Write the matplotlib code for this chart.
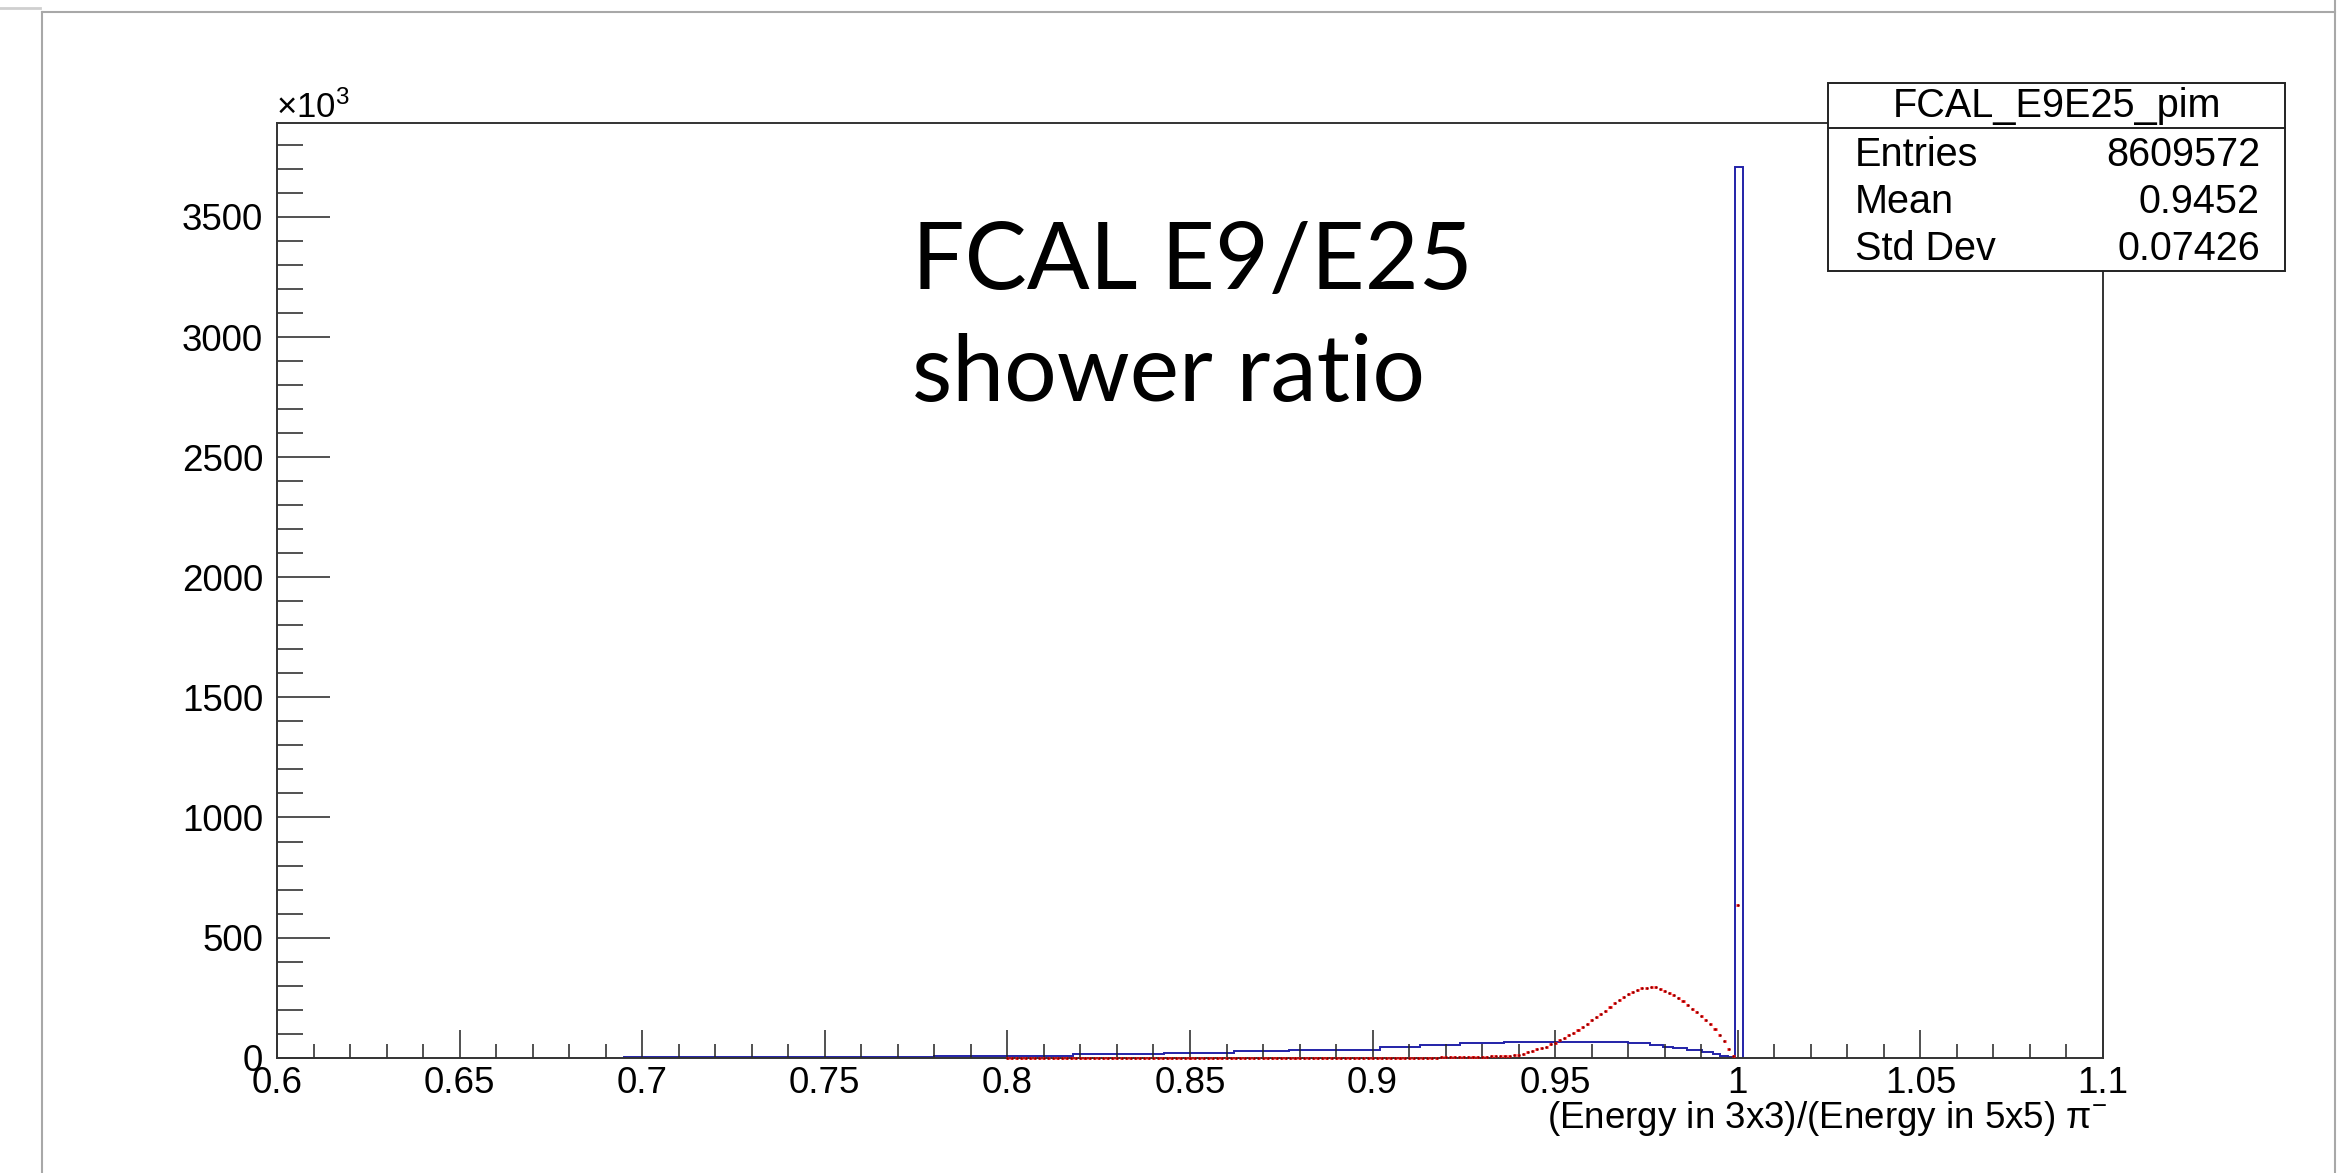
import numpy as np
import matplotlib
matplotlib.use("Agg")
import matplotlib.pyplot as plt
from matplotlib.patches import Rectangle
from matplotlib.lines import Line2D
from matplotlib.ticker import MultipleLocator, FuncFormatter

plt.rcParams['font.family'] = ['Liberation Sans', 'DejaVu Sans']
plt.rcParams['mathtext.fontset'] = 'custom'
plt.rcParams['mathtext.rm'] = 'Liberation Sans'
plt.rcParams['mathtext.it'] = 'Liberation Sans:italic'

# blue histogram (counts in thousands), steps as seen on the plot
blue_edges = [0.695, 0.78, 0.818, 0.843, 0.862, 0.877, 0.902, 0.913, 0.924, 0.936,
              0.970, 0.976, 0.9796, 0.9823, 0.986, 0.9901, 0.9933, 0.9951, 0.9974,
              0.9992, 1.0013]
blue_counts = [2, 8, 15, 21, 28, 33, 46, 53, 60, 66,
               61, 54, 46, 39, 32, 24, 15, 6, 2, 3707]

# red histogram (counts in thousands), bin width 0.00125 from 0.80 to 1.00
red_start = 0.80
red_width = 0.00125
red_counts = [0] * 95 + [
    3, 3, 3, 3, 3, 3, 3, 3, 3, 4,
    4, 5, 6, 7, 8, 9, 10, 11, 15, 22,
    28, 35, 40, 46, 55, 63, 73, 83, 93, 104,
    117, 128, 141, 156, 169, 181, 196, 212, 226, 240,
    254, 265, 273, 282, 289, 291, 294, 295, 285, 278,
    270, 260, 248, 235, 220, 204, 189, 172, 156, 139,
    119, 96, 70, 36, 8, 637]

hist_name = "FCAL_E9E25_pim"
stat_labels = ["Entries", "Mean", "Std Dev"]
stat_values = ["8609572", "0.9452", "0.07426"]
title_lines = ["FCAL E9/E25", "shower ratio"]
x_title = "(Energy in 3x3)/(Energy in 5x5) π$^{-}$"

W, H = 2350, 1173
fig = plt.figure(figsize=(W / 100, H / 100), dpi=100)

def fx(px):
    return px / W

def fy(py):
    return 1 - py / H

ax = fig.add_axes([fx(277), fy(1057.7), fx(2103 - 277), (1057.7 - 123.3) / H])

blue = np.array(blue_counts) * 1e3
ax.stairs(blue, blue_edges, color='#2323a8', lw=1.4, baseline=0)

red = np.array(red_counts) * 1e3
rx = red_start + red_width * np.arange(len(red))
ax.hlines(red, rx - 0.00042, rx + 0.00042, color='#ff1010', lw=2.0, zorder=3,
          clip_on=False)
ax.plot(rx, red, ls='none', marker='.', ms=1.0, color='#600000', zorder=4,
        clip_on=False)

ax.set_xlim(0.6, 1.1)
ax.set_ylim(0, 3.89e6)
ax.xaxis.set_major_locator(MultipleLocator(0.05))
ax.xaxis.set_minor_locator(MultipleLocator(0.01))
ax.yaxis.set_major_locator(MultipleLocator(500e3))
ax.yaxis.set_minor_locator(MultipleLocator(100e3))
ax.xaxis.set_major_formatter(FuncFormatter(lambda v, p: f"{v:g}"))
ax.yaxis.set_major_formatter(FuncFormatter(lambda v, p: f"{v / 1e3:.0f}"))
ax.tick_params(axis='both', which='both', direction='in', top=False, right=False,
               width=1.1, color='#222222', labelsize=26.5)
ax.tick_params(axis='x', which='major', length=20, pad=6)
ax.tick_params(axis='x', which='minor', length=10)
ax.tick_params(axis='y', which='major', length=38, pad=10)
ax.tick_params(axis='y', which='minor', length=19)
for s in ax.spines.values():
    s.set_linewidth(1.4)
    s.set_color('#333333')

fig.text(fx(276), fy(118), "×10$^{3}$", fontsize=25, ha='left', va='baseline')
fig.text(fx(2107), fy(1128), x_title, fontsize=26.5, ha='right', va='baseline')

# big annotation
fig.text(fx(912), fy(289), title_lines[0], family=['Lato', 'DejaVu Sans'],
         fontsize=67, ha='left', va='baseline')
fig.text(fx(912), fy(401), title_lines[1], family=['Lato', 'DejaVu Sans'],
         fontsize=67, ha='left', va='baseline')

# stats box
bx0, bx1, by0, by1, bsep = 1828, 2285, 83, 271, 128
fig.add_artist(Rectangle((fx(bx0), fy(by1)), fx(bx1 - bx0), (by1 - by0) / H,
                         transform=fig.transFigure, facecolor='white',
                         edgecolor='#222222', lw=1.4, zorder=5))
fig.add_artist(Line2D([fx(bx0), fx(bx1)], [fy(bsep), fy(bsep)],
                      transform=fig.transFigure, color='#222222', lw=1.4, zorder=6))
fig.text(fx((bx0 + bx1) / 2), fy(117), hist_name, fontsize=28.5,
         ha='center', va='baseline', zorder=7)
for i, (lab, val) in enumerate(zip(stat_labels, stat_values)):
    yb = 166 + i * 47
    fig.text(fx(1855), fy(yb), lab, fontsize=28.5, ha='left', va='baseline', zorder=7)
    fig.text(fx(2260), fy(yb), val, fontsize=28.5, ha='right', va='baseline', zorder=7)

# window frame lines
grey = '#a8a8a8'
fig.add_artist(Line2D([fx(42), fx(2335)], [fy(12), fy(12)], color=grey, lw=1.5))
fig.add_artist(Line2D([fx(42), fx(42)], [fy(12), 0], color=grey, lw=1.5))
fig.add_artist(Line2D([fx(2335), fx(2335)], [1, 0], color=grey, lw=1.5))
fig.add_artist(Line2D([0, fx(40)], [fy(8), fy(8)], color='#cfcfcf', lw=2))

fig.savefig("out.png", dpi=100)
